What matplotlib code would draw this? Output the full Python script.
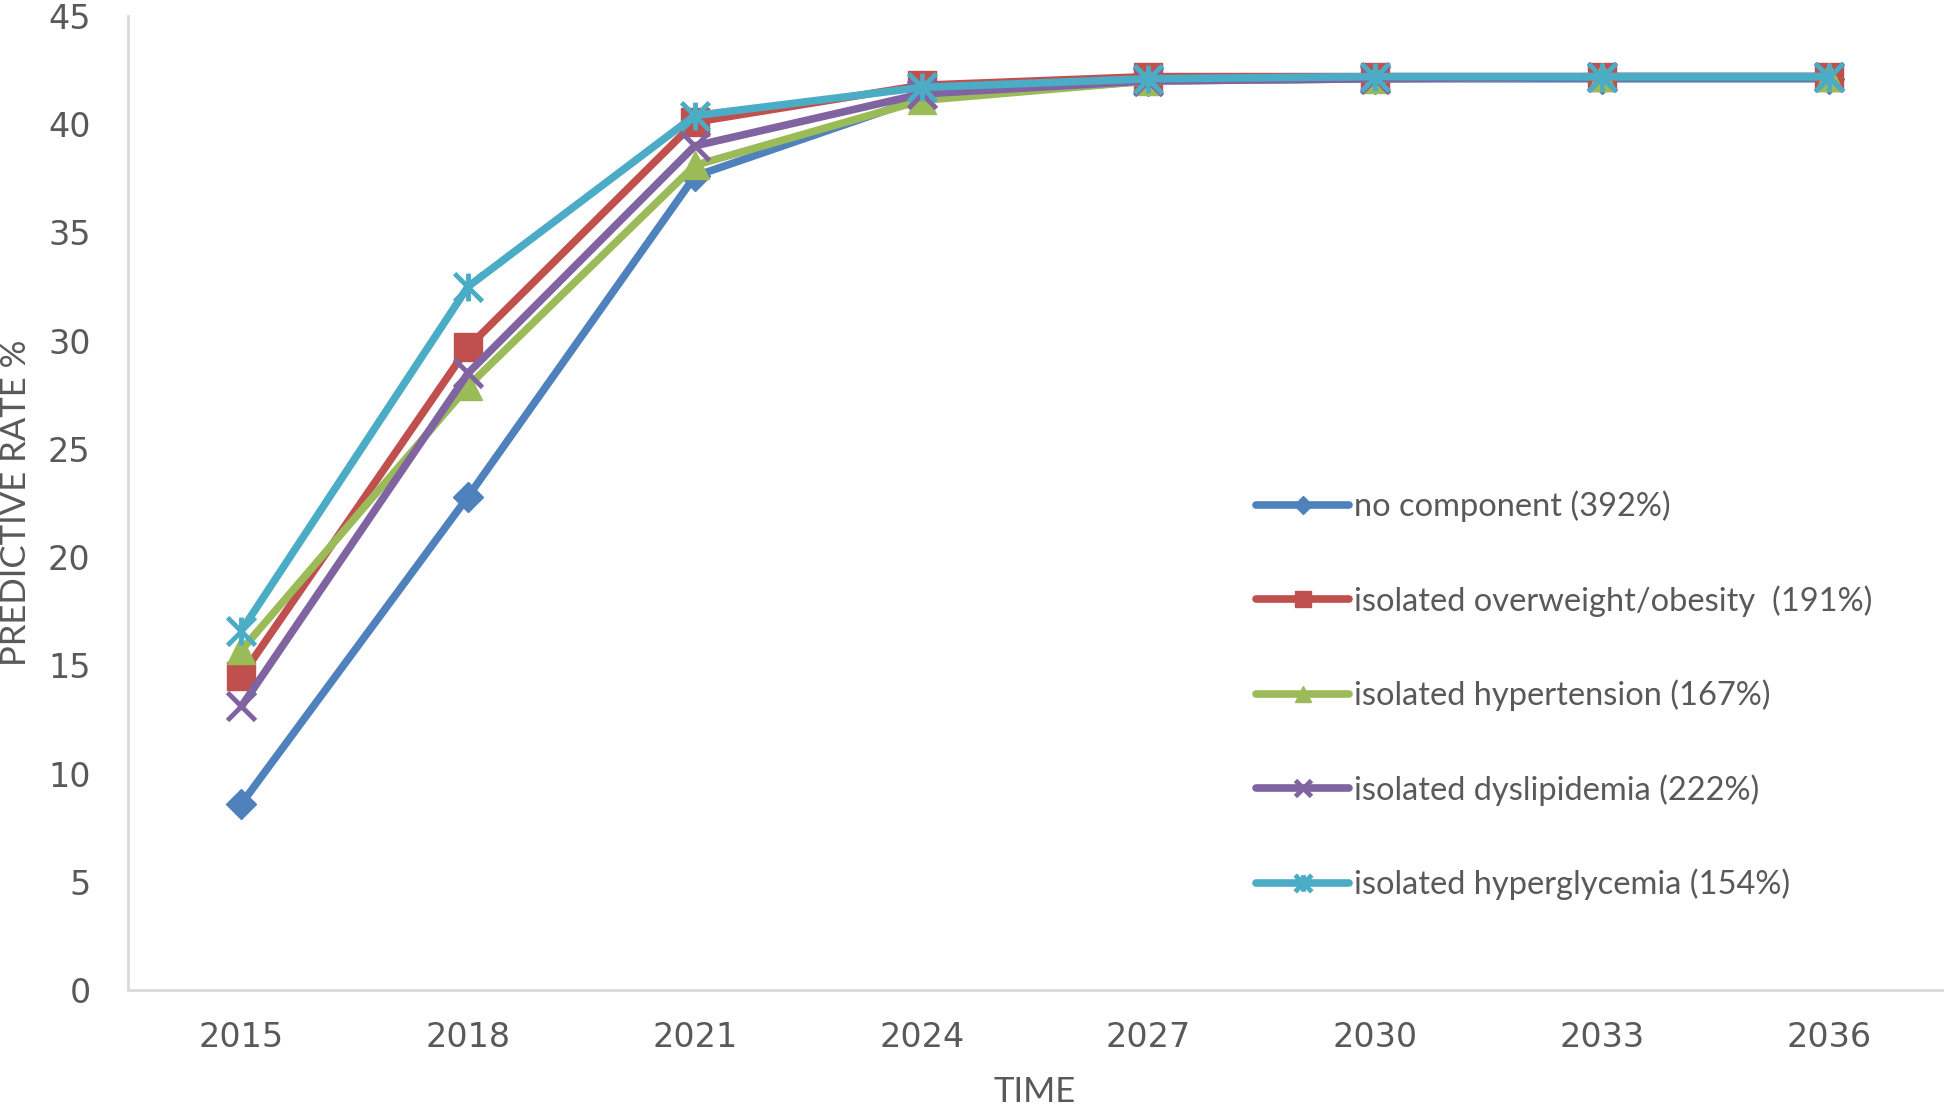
import numpy as np
import matplotlib.pyplot as plt
from matplotlib.path import Path

years = ['2015', '2018', '2021', '2024', '2027', '2030', '2033', '2036']

no_component = [8.6, 22.8, 37.6, 41.2, 42.0, 42.1, 42.1, 42.1]
overweight = [14.5, 29.7, 40.1, 41.8, 42.2, 42.2, 42.2, 42.2]
hypertension = [15.7, 27.9, 38.1, 41.1, 42.0, 42.1, 42.2, 42.2]
dyslipidemia = [13.1, 28.5, 39.0, 41.4, 42.0, 42.1, 42.2, 42.2]
hyperglycemia = [16.6, 32.5, 40.4, 41.7, 42.1, 42.2, 42.2, 42.2]

labels = ['no component (392%)',
          'isolated overweight/obesity  (191%)',
          'isolated hypertension (167%)',
          'isolated dyslipidemia (222%)',
          'isolated hyperglycemia (154%)']

text_color = '#595959'
grid_color = '#D9D9D9'

# excel style star: x with a vertical bar
star = Path([(-0.5, -0.5), (0.5, 0.5), (-0.5, 0.5), (0.5, -0.5), (0, -0.5), (0, 0.5)],
            [Path.MOVETO, Path.LINETO, Path.MOVETO, Path.LINETO, Path.MOVETO, Path.LINETO])

fig = plt.figure(figsize=(19.52, 11.08), dpi=100)
ax = fig.add_axes([128 / 1952, 118 / 1108, 1814 / 1952, 974 / 1108])

x = np.arange(len(years))
lw = 5.5
ax.plot(x, no_component, color='#4F81BD', lw=lw, marker='D', ms=15,
        solid_joinstyle='round', solid_capstyle='round', label=labels[0])
ax.plot(x, overweight, color='#C0504D', lw=lw, marker='s', ms=20,
        solid_joinstyle='round', solid_capstyle='round', label=labels[1])
ax.plot(x, hypertension, color='#9BBB59', lw=lw, marker='^', ms=20,
        solid_joinstyle='round', solid_capstyle='round', label=labels[2])
ax.plot(x, dyslipidemia, color='#8064A2', lw=lw, marker='x', ms=20, mew=3.5,
        solid_joinstyle='round', solid_capstyle='round', label=labels[3])
ax.plot(x, hyperglycemia, color='#4BACC6', lw=lw, marker=star, ms=20, mew=3.5,
        solid_joinstyle='round', solid_capstyle='round', label=labels[4])

ax.set_xlim(-0.5, len(years) - 0.5)
ax.set_ylim(0, 45)
ax.set_yticks(range(0, 46, 5))
ax.set_xticks(x)
ax.set_xticklabels(years)

for s in ['top', 'right']:
    ax.spines[s].set_visible(False)
for s in ['left', 'bottom']:
    ax.spines[s].set_color(grid_color)
    ax.spines[s].set_linewidth(2)

ax.tick_params(axis='both', length=0, colors=text_color)
ax.tick_params(axis='y', labelsize=24, pad=27)
ax.tick_params(axis='x', labelsize=24, pad=22)

ax.set_xlabel('TIME', fontsize=25, color=text_color, family='Lato')
ax.set_ylabel('PREDICTIVE RATE %', fontsize=25, color=text_color, family='Lato')
ax.xaxis.set_label_coords(0.5, -0.088)
ax.yaxis.set_label_coords(-0.053, 0.5)

leg = ax.legend(loc='upper left', bbox_to_anchor=(1240 / 1952, 1 - 474 / 1108),
                bbox_transform=fig.transFigure, frameon=False, borderpad=0,
                handlelength=2.85, handletextpad=0.15, labelspacing=1.93,
                markerscale=0.6, prop={'family': 'Lato', 'size': 23.5})
for t in leg.get_texts():
    t.set_color(text_color)

fig.savefig('out.png', dpi=100)
